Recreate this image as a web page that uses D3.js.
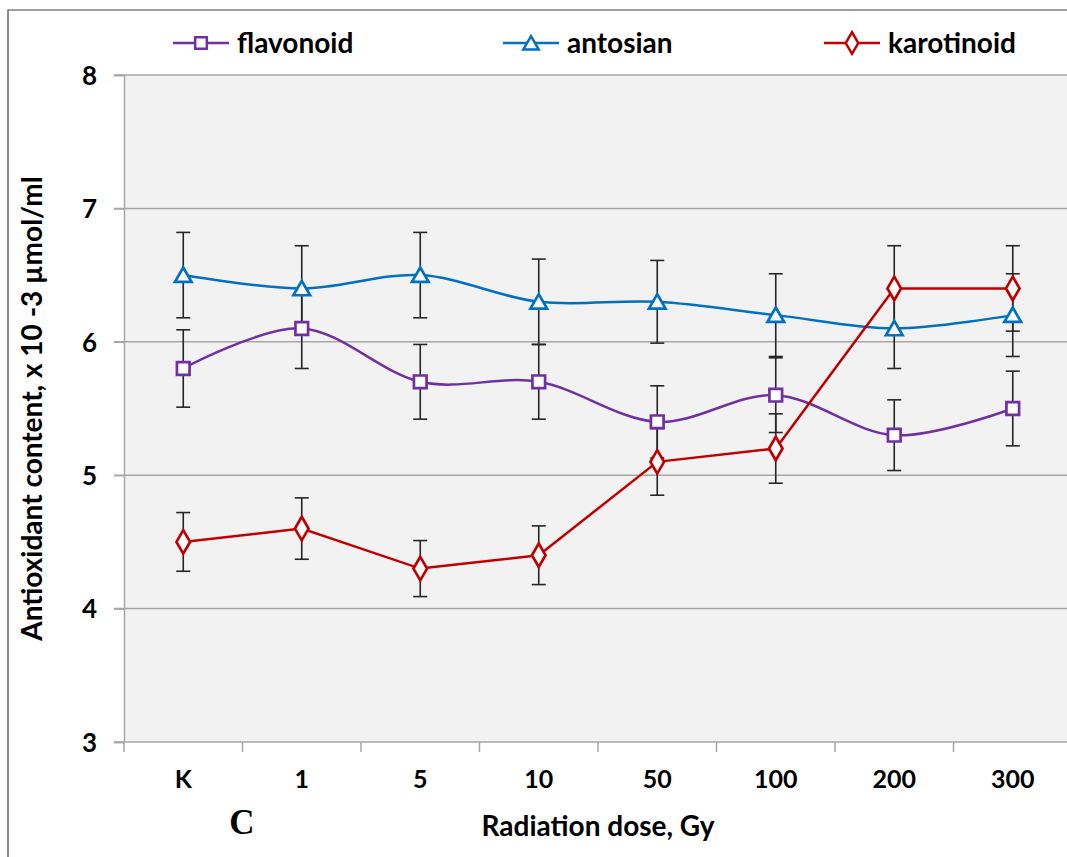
<!DOCTYPE html>
<html lang="en">
<head>
    <meta charset="utf-8">
    <title>Antioxidant content vs radiation dose</title>
    <script src="https://d3js.org/d3.v7.min.js"></script>
    <style>
        body{
            margin: 0;
            background: #ffffff;
        }
        svg text{
            font-family: Lato, "Open Sans", sans-serif;
            font-weight: bold;
            fill: #000000;
        }
    </style>
</head>
<body>
    <div id="chart"></div>
    <script>

        var width = 1067;
        var height = 857;

        // data
        var doses = ["K", "1", "5", "10", "50", "100", "200", "300"];
        var yTicks = [3, 4, 5, 6, 7, 8];

        var flavonoid = [5.8, 6.1, 5.7, 5.7, 5.4, 5.6, 5.3, 5.5];
        var flavonoidErr = [0.29, 0.30, 0.28, 0.28, 0.27, 0.28, 0.265, 0.28];

        var antosian = [6.5, 6.4, 6.5, 6.3, 6.3, 6.2, 6.1, 6.2];
        var antosianErr = [0.32, 0.32, 0.32, 0.32, 0.31, 0.31, 0.30, 0.31];

        var karotinoid = [4.5, 4.6, 4.3, 4.4, 5.1, 5.2, 6.4, 6.4];
        var karotinoidErr = [0.22, 0.23, 0.21, 0.22, 0.25, 0.26, 0.32, 0.32];

        var series = [
            {name: "flavonoid", values: flavonoid, err: flavonoidErr, color: "#7030A0", symbol: d3.symbolSquare, size: 160, smooth: true},
            {name: "antosian", values: antosian, err: antosianErr, color: "#0070C0", symbol: d3.symbolTriangle, size: 120, smooth: true},
            {name: "karotinoid", values: karotinoid, err: karotinoidErr, color: "#C00000", symbol: d3.symbolDiamond, size: 160, smooth: false}
        ];

        var margin = {left: 124, top: 75, right: 1072, bottom: 742};

        var svg = d3.select("#chart")
            .append("svg")
            .attr("width", width)
            .attr("height", height);

        // outer frame (only top and left visible in the figure)
        svg.append("path")
            .attr("d", "M8," + height + "V10H" + width)
            .attr("fill", "none")
            .attr("stroke", "#404040")
            .attr("stroke-width", 1.2);

        var x = d3.scaleBand()
            .domain(doses)
            .range([margin.left, margin.right])
            .padding(0);

        var y = d3.scaleLinear()
            .domain([3, 8])
            .range([margin.bottom, margin.top]);

        function cx(i) {
            return x(doses[i]) + x.bandwidth() / 2;
        }

        // plot background
        svg.append("rect")
            .attr("x", margin.left)
            .attr("y", margin.top)
            .attr("width", margin.right - margin.left)
            .attr("height", margin.bottom - margin.top)
            .attr("fill", "#F2F2F2");

        // gridlines
        svg.append("g")
            .selectAll("line")
            .data(yTicks)
            .enter()
            .append("line")
            .attr("x1", margin.left - 10)
            .attr("x2", margin.right)
            .attr("y1", function(d){ return y(d); })
            .attr("y2", function(d){ return y(d); })
            .attr("stroke", "#A6A6A6")
            .attr("stroke-width", 1.5);

        // y axis
        var yAxis = svg.append("g")
            .attr("transform", "translate(" + margin.left + ",0)")
            .call(d3.axisLeft(y).tickValues(yTicks).tickSize(10).tickPadding(17).tickFormat(d3.format("d")));
        yAxis.select(".domain").attr("stroke", "#A6A6A6").attr("stroke-width", 1.5);
        yAxis.selectAll(".tick line").attr("stroke", "#A6A6A6").attr("stroke-width", 1.5);
        yAxis.selectAll(".tick text")
            .style("font-size", "26px")
            .attr("dy", "0.36em");

        // x axis: ticks at category boundaries, labels centred
        svg.append("g")
            .selectAll("line")
            .data(doses)
            .enter()
            .append("line")
            .attr("x1", function(d){ return x(d); })
            .attr("x2", function(d){ return x(d); })
            .attr("y1", margin.bottom)
            .attr("y2", margin.bottom + 10)
            .attr("stroke", "#A6A6A6")
            .attr("stroke-width", 1.5);

        var xAxis = svg.append("g")
            .attr("transform", "translate(0," + margin.bottom + ")")
            .call(d3.axisBottom(x).tickSize(0).tickPadding(28));
        xAxis.select(".domain").remove();
        xAxis.selectAll(".tick text")
            .style("font-size", "25px");

        // axis titles
        svg.append("text")
            .attr("x", (margin.left + margin.right) / 2)
            .attr("y", 836)
            .attr("text-anchor", "middle")
            .style("font-size", "28px")
            .text("Radiation dose, Gy");

        svg.append("text")
            .attr("transform", "translate(42," + ((margin.top + margin.bottom) / 2) + ") rotate(-90)")
            .attr("text-anchor", "middle")
            .style("font-size", "28px")
            .text("Antioxidant content, x 10 -3 \u00b5mol/ml");

        svg.append("text")
            .attr("x", 242)
            .attr("y", 834)
            .attr("text-anchor", "middle")
            .style("font-family", "'Liberation Serif', 'Times New Roman', serif")
            .style("font-size", "35px")
            .text("C");

        // error bars
        var capHalf = 7;
        series.forEach(function(s){
            var g = svg.append("g").attr("class", "err-" + s.name);
            s.values.forEach(function(v, i){
                var e = s.err[i];
                var px = cx(i);
                g.append("line")
                    .attr("x1", px).attr("x2", px)
                    .attr("y1", y(v + e)).attr("y2", y(v - e));
                g.append("line")
                    .attr("x1", px - capHalf).attr("x2", px + capHalf)
                    .attr("y1", y(v + e)).attr("y2", y(v + e));
                g.append("line")
                    .attr("x1", px - capHalf).attr("x2", px + capHalf)
                    .attr("y1", y(v - e)).attr("y2", y(v - e));
            });
            g.selectAll("line")
                .attr("stroke", "#262626")
                .attr("stroke-width", 1.6);
        });

        // lines
        series.forEach(function(s){
            var line = d3.line()
                .x(function(d, i){ return cx(i); })
                .y(function(d){ return y(d); })
                .curve(s.smooth ? d3.curveCatmullRom.alpha(0) : d3.curveLinear);
            svg.append("path")
                .datum(s.values)
                .attr("d", line)
                .attr("fill", "none")
                .attr("stroke", s.color)
                .attr("stroke-width", 2.5);
        });

        // markers
        series.forEach(function(s){
            var sym = d3.symbol().type(s.symbol).size(s.size);
            svg.append("g")
                .selectAll("path")
                .data(s.values)
                .enter()
                .append("path")
                .attr("d", sym)
                .attr("transform", function(d, i){
                    var dy = s.symbol === d3.symbolTriangle ? 2 : 0;
                    return "translate(" + cx(i) + "," + (y(d) + dy) + ")";
                })
                .attr("fill", "#ffffff")
                .attr("stroke", s.color)
                .attr("stroke-width", 2.7);
        });

        // legend
        var legendX = [173, 503, 824];
        var legendY = 43;
        series.forEach(function(s, i){
            var g = svg.append("g")
                .attr("transform", "translate(" + legendX[i] + "," + legendY + ")");
            g.append("line")
                .attr("x1", 0).attr("x2", 56)
                .attr("y1", 0).attr("y2", 0)
                .attr("stroke", s.color)
                .attr("stroke-width", 2.5);
            g.append("path")
                .attr("d", d3.symbol().type(s.symbol).size(s.size * 0.85))
                .attr("transform", "translate(28," + (s.symbol === d3.symbolTriangle ? 2 : 0) + ")")
                .attr("fill", "#ffffff")
                .attr("stroke", s.color)
                .attr("stroke-width", 2.5);
            g.append("text")
                .attr("x", 64)
                .attr("y", 10)
                .style("font-size", "28px")
                .text(s.name);
        });

    </script>
</body>
</html>
